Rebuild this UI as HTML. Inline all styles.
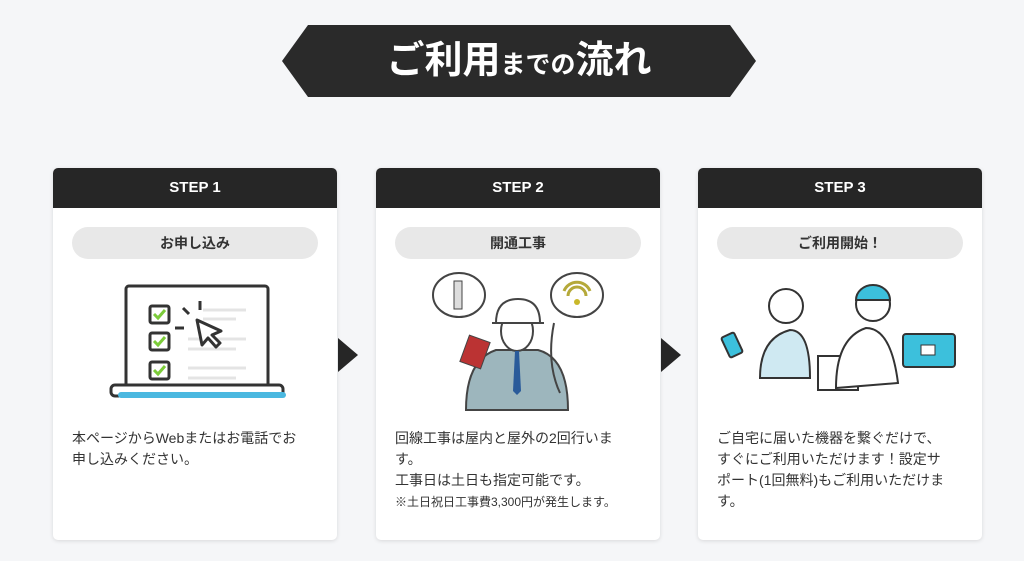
<!DOCTYPE html>
<html><head><meta charset="utf-8"><style>
body{margin:0;width:1024px;height:561px;background:#f5f6f8;font-family:"Liberation Sans","Noto Sans CJK JP",sans-serif;position:relative;overflow:hidden;color:#333}
.ban{position:absolute;left:282px;top:25px;width:474px;height:72px;background:#2a2a2a;clip-path:polygon(26px 0,448px 0,474px 36px,448px 72px,26px 72px,0 36px);color:#fff;text-align:center;font-weight:700;line-height:72px}
.ban .b{font-size:38px}.ban .s{font-size:25px}
.card{position:absolute;top:168px;width:284px;height:372px;background:#fff;border-radius:5px;box-shadow:0 1px 4px rgba(0,0,0,.12);overflow:hidden}
.hd{height:40px;background:#262626;color:#fff;font-weight:700;font-size:15px;text-align:center;line-height:40px}
.pill{position:absolute;left:19px;top:59px;width:246px;height:32px;border-radius:16px;background:#e8e8e8;text-align:center;line-height:32px;font-weight:700;font-size:14px;color:#333}
.tx{position:absolute;left:19px;top:260px;width:234px;font-size:14px;line-height:21px;color:#333}
.arr{position:absolute;top:338px;width:0;height:0;border-top:17px solid transparent;border-bottom:17px solid transparent;border-left:20px solid #262626}
</style></head><body>
<div class="ban"><span class="b">ご利用</span><span class="s">までの</span><span class="b">流れ</span></div>

<div class="card" style="left:53px"><div class="hd">STEP 1</div><div class="pill">お申し込み</div>
<svg style="position:absolute;left:0;top:100px" width="284" height="140">
<rect x="73" y="18" width="142" height="105" rx="3" fill="#fff" stroke="#333" stroke-width="3"/>
<rect x="58" y="117" width="172" height="11" rx="4" fill="#fff" stroke="#333" stroke-width="3"/>
<rect x="65" y="124" width="168" height="6" rx="3" fill="#4bb8e0"/>
<g stroke="#333" stroke-width="3" fill="#fff"><rect x="97" y="38" width="19" height="17" rx="2"/><rect x="97" y="65" width="19" height="17" rx="2"/><rect x="97" y="94" width="19" height="17" rx="2"/></g>
<g stroke="#7ccc3a" stroke-width="3" fill="none"><path d="M101 46l4 4 7-8"/><path d="M101 73l4 4 7-8"/><path d="M101 102l4 4 7-8"/></g>
<g stroke="#e4e4e4" stroke-width="3"><line x1="150" y1="42" x2="193" y2="42"/><line x1="150" y1="51" x2="183" y2="51"/><line x1="135" y1="71" x2="193" y2="71"/><line x1="135" y1="81" x2="183" y2="81"/><line x1="135" y1="100" x2="193" y2="100"/><line x1="135" y1="110" x2="183" y2="110"/></g>
<path d="M144 52l5 25 6-7 8 9 4-4-8-8 9-4z" fill="#fff" stroke="#333" stroke-width="3" stroke-linejoin="round"/>
<g stroke="#333" stroke-width="3"><line x1="147" y1="33" x2="147" y2="42"/><line x1="130" y1="40" x2="136" y2="46"/><line x1="122" y1="60" x2="131" y2="60"/></g>
</svg>
<div class="tx">本ページからWebまたはお電話でお申し込みください。</div></div>
<div class="arr" style="left:338px"></div>

<div class="card" style="left:376px"><div class="hd">STEP 2</div><div class="pill">開通工事</div>
<svg style="position:absolute;left:0;top:95px" width="284" height="150">
<ellipse cx="83" cy="32" rx="26" ry="22" fill="#fff" stroke="#444" stroke-width="2"/>
<ellipse cx="201" cy="32" rx="26" ry="22" fill="#fff" stroke="#444" stroke-width="2"/>
<path d="M188 28a14 14 0 0 1 26 0M192 33a9 9 0 0 1 18 0" stroke="#b5a93a" stroke-width="3" fill="none"/><circle cx="201" cy="39" r="3" fill="#c9b82a"/>
<rect x="78" y="18" width="8" height="28" fill="#ddd" stroke="#444"/>
<path d="M90 147 q0-50 30-60 h42 q30 8 30 60z" fill="#9db6bd" stroke="#444" stroke-width="2"/>
<ellipse cx="141" cy="68" rx="16" ry="20" fill="#fff" stroke="#444" stroke-width="2"/>
<path d="M120 60 q0-24 22-24 q22 0 22 24z" fill="#fff" stroke="#444" stroke-width="2"/>
<line x1="116" y1="60" x2="168" y2="60" stroke="#444" stroke-width="2"/>
<path d="M139 88l4 0 2 40-4 4-4-4z" fill="#2a5b9a"/>
<rect x="88" y="75" width="22" height="28" fill="#b33" stroke="#444" transform="rotate(20 99 89)"/>
<path d="M178 60 q-8 40 6 70" stroke="#444" stroke-width="2" fill="none"/>
</svg>
<div class="tx">回線工事は屋内と屋外の2回行います。<br>工事日は土日も指定可能です。<br><span style="font-size:12px;white-space:nowrap">※土日祝日工事費3,300円が発生します。</span></div></div>
<div class="arr" style="left:661px"></div>

<div class="card" style="left:698px"><div class="hd">STEP 3</div><div class="pill">ご利用開始！</div>
<svg style="position:absolute;left:0;top:100px" width="284" height="130">
<circle cx="88" cy="38" r="17" fill="#fff" stroke="#333" stroke-width="2"/>
<path d="M62 110 q0-40 30-48 q20 0 20 48z" fill="#cfe9f2" stroke="#333" stroke-width="2"/>
<rect x="27" y="66" width="14" height="22" rx="2" fill="#3cc0dc" stroke="#333" stroke-width="2" transform="rotate(-25 34 77)"/>
<circle cx="175" cy="36" r="17" fill="#fff" stroke="#333" stroke-width="2"/>
<path d="M158 32 a17 15 0 0 1 34 0 z" fill="#3cc0dc" stroke="#333" stroke-width="2"/>
<rect x="120" y="88" width="40" height="34" fill="#fff" stroke="#333" stroke-width="2"/>
<path d="M138 120 q0-50 30-60 q25 0 32 55z" fill="#fff" stroke="#333" stroke-width="2"/>
<rect x="205" y="66" width="52" height="33" rx="3" fill="#3cc0dc" stroke="#333" stroke-width="2"/>
<rect x="223" y="77" width="14" height="10" fill="#fff" stroke="#333"/>
</svg>
<div class="tx">ご自宅に届いた機器を繋ぐだけで、すぐにご利用いただけます！設定サポート(1回無料)もご利用いただけます。</div></div>
</body></html>
